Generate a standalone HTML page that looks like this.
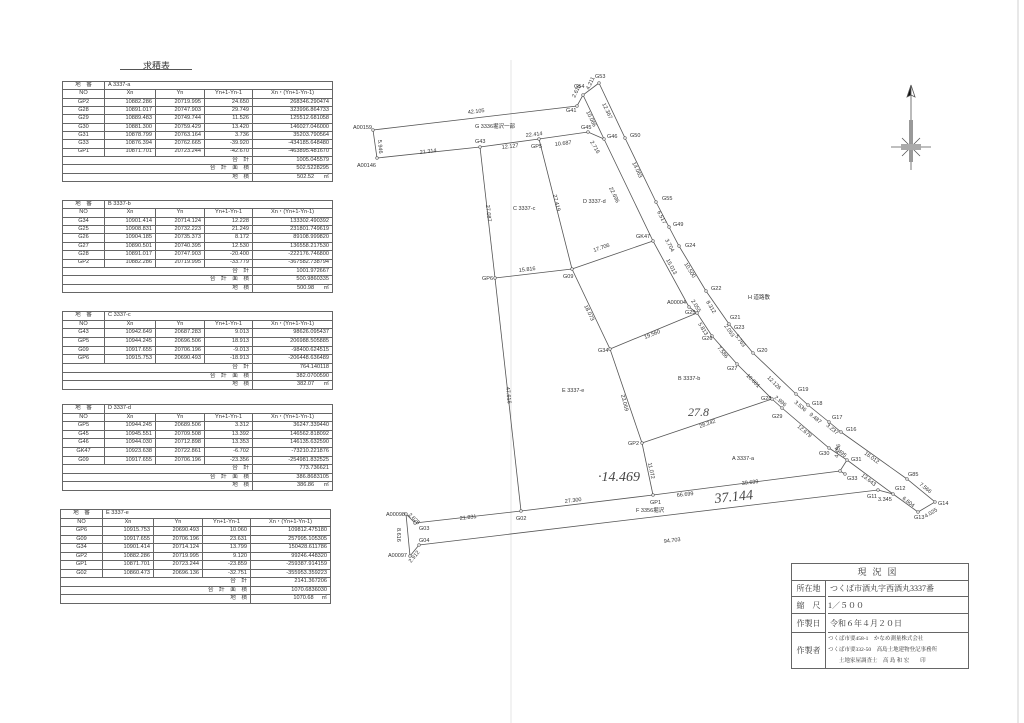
<!DOCTYPE html>
<html><head><meta charset="utf-8">
<style>
body{margin:0;background:#fff;}
#pg{position:relative;width:1024px;height:723px;overflow:hidden;background:#fff;font-family:"Liberation Sans","Noto Sans CJK JP",sans-serif;color:#333;}
table.q{position:absolute;border-collapse:collapse;font-size:5.6px;table-layout:fixed;}
table.q td{border:0.8px solid #666;padding:0 3px;white-space:nowrap;overflow:hidden;line-height:1;}
table.q td.c{text-align:center}
table.q td.r{text-align:right}
svg{position:absolute;left:0;top:0}
.tb{position:absolute;left:791px;top:563px;width:176px;height:104px;border:1px solid #666;font-family:"Liberation Serif","Noto Serif CJK SC",serif;color:#333;}
.tb div{position:absolute;box-sizing:border-box}
</style></head><body><div id="pg">

<div style="position:absolute;left:143px;top:59px;font-size:9px;">求積表</div>
<div style="position:absolute;left:120px;top:69px;width:72px;border-top:0.8px solid #555"></div>

<!-- Table A -->
<table class="q" style="left:62px;top:81px;width:270px;height:101px">
<colgroup><col style="width:42px"><col style="width:51px"><col style="width:49px"><col style="width:48px"><col style="width:80px"></colgroup>
<tr><td class="c">地　番</td><td colspan="4">A 3337-a</td></tr>
<tr><td class="c">NO</td><td class="c">Xn</td><td class="c">Yn</td><td class="c">Yn+1-Yn-1</td><td class="c">Xn・(Yn+1-Yn-1)</td></tr>
<tr><td class="c">GP2</td><td class="r">10882.286</td><td class="r">20719.995</td><td class="r">24.650</td><td class="r">268346.290474</td></tr>
<tr><td class="c">G28</td><td class="r">10891.017</td><td class="r">20747.903</td><td class="r">29.749</td><td class="r">323996.864733</td></tr>
<tr><td class="c">G29</td><td class="r">10889.483</td><td class="r">20749.744</td><td class="r">11.526</td><td class="r">125512.681058</td></tr>
<tr><td class="c">G30</td><td class="r">10881.300</td><td class="r">20759.429</td><td class="r">13.420</td><td class="r">146027.046000</td></tr>
<tr><td class="c">G31</td><td class="r">10878.799</td><td class="r">20763.164</td><td class="r">3.736</td><td class="r">35203.790564</td></tr>
<tr><td class="c">G33</td><td class="r">10876.394</td><td class="r">20762.665</td><td class="r">-39.920</td><td class="r">-434185.648480</td></tr>
<tr><td class="c">GP1</td><td class="r">10871.701</td><td class="r">20723.244</td><td class="r">-42.670</td><td class="r">-463895.481670</td></tr>
<tr><td colspan="4" class="r">合　計</td><td class="r">1005.045579</td></tr>
<tr><td colspan="4" class="r">合　計　面　積</td><td class="r">502.5228295</td></tr>
<tr><td colspan="4" class="r">地　積</td><td class="r">502.52&nbsp;&nbsp;&nbsp;&nbsp;&nbsp;&nbsp;㎡</td></tr>
</table>

<!-- Table B -->
<table class="q" style="left:62px;top:200px;width:270px;height:93px">
<colgroup><col style="width:42px"><col style="width:51px"><col style="width:49px"><col style="width:48px"><col style="width:80px"></colgroup>
<tr><td class="c">地　番</td><td colspan="4">B 3337-b</td></tr>
<tr><td class="c">NO</td><td class="c">Xn</td><td class="c">Yn</td><td class="c">Yn+1-Yn-1</td><td class="c">Xn・(Yn+1-Yn-1)</td></tr>
<tr><td class="c">G34</td><td class="r">10901.414</td><td class="r">20714.124</td><td class="r">12.228</td><td class="r">133302.490392</td></tr>
<tr><td class="c">G25</td><td class="r">10908.831</td><td class="r">20732.223</td><td class="r">21.249</td><td class="r">231801.749619</td></tr>
<tr><td class="c">G26</td><td class="r">10904.185</td><td class="r">20735.373</td><td class="r">8.172</td><td class="r">89108.999820</td></tr>
<tr><td class="c">G27</td><td class="r">10890.501</td><td class="r">20740.395</td><td class="r">12.530</td><td class="r">136558.217530</td></tr>
<tr><td class="c">G28</td><td class="r">10891.017</td><td class="r">20747.903</td><td class="r">-20.400</td><td class="r">-222176.746800</td></tr>
<tr><td class="c">GP2</td><td class="r">10882.286</td><td class="r">20719.995</td><td class="r">-33.779</td><td class="r">-367582.738794</td></tr>
<tr><td colspan="4" class="r">合　計</td><td class="r">1001.972667</td></tr>
<tr><td colspan="4" class="r">合　計　面　積</td><td class="r">500.9860335</td></tr>
<tr><td colspan="4" class="r">地　積</td><td class="r">500.98&nbsp;&nbsp;&nbsp;&nbsp;&nbsp;&nbsp;㎡</td></tr>
</table>

<!-- Table C -->
<table class="q" style="left:62px;top:311px;width:270px;height:79px">
<colgroup><col style="width:42px"><col style="width:51px"><col style="width:49px"><col style="width:48px"><col style="width:80px"></colgroup>
<tr><td class="c">地　番</td><td colspan="4">C 3337-c</td></tr>
<tr><td class="c">NO</td><td class="c">Xn</td><td class="c">Yn</td><td class="c">Yn+1-Yn-1</td><td class="c">Xn・(Yn+1-Yn-1)</td></tr>
<tr><td class="c">G43</td><td class="r">10942.649</td><td class="r">20687.283</td><td class="r">9.013</td><td class="r">98626.095437</td></tr>
<tr><td class="c">GP5</td><td class="r">10944.245</td><td class="r">20696.506</td><td class="r">18.913</td><td class="r">206988.505885</td></tr>
<tr><td class="c">G09</td><td class="r">10917.655</td><td class="r">20706.196</td><td class="r">-9.013</td><td class="r">-98400.624515</td></tr>
<tr><td class="c">GP6</td><td class="r">10915.753</td><td class="r">20690.493</td><td class="r">-18.913</td><td class="r">-206448.636489</td></tr>
<tr><td colspan="4" class="r">合　計</td><td class="r">764.140118</td></tr>
<tr><td colspan="4" class="r">合　計　面　積</td><td class="r">382.0700590</td></tr>
<tr><td colspan="4" class="r">地　積</td><td class="r">382.07&nbsp;&nbsp;&nbsp;&nbsp;&nbsp;&nbsp;㎡</td></tr>
</table>

<!-- Table D -->
<table class="q" style="left:62px;top:404px;width:270px;height:87px">
<colgroup><col style="width:42px"><col style="width:51px"><col style="width:49px"><col style="width:48px"><col style="width:80px"></colgroup>
<tr><td class="c">地　番</td><td colspan="4">D 3337-d</td></tr>
<tr><td class="c">NO</td><td class="c">Xn</td><td class="c">Yn</td><td class="c">Yn+1-Yn-1</td><td class="c">Xn・(Yn+1-Yn-1)</td></tr>
<tr><td class="c">GP5</td><td class="r">10944.245</td><td class="r">20689.506</td><td class="r">3.312</td><td class="r">36247.339440</td></tr>
<tr><td class="c">G45</td><td class="r">10945.551</td><td class="r">20709.508</td><td class="r">13.392</td><td class="r">146562.818092</td></tr>
<tr><td class="c">G46</td><td class="r">10944.030</td><td class="r">20712.898</td><td class="r">13.353</td><td class="r">146135.632590</td></tr>
<tr><td class="c">GK47</td><td class="r">10923.638</td><td class="r">20722.861</td><td class="r">-6.702</td><td class="r">-73210.221876</td></tr>
<tr><td class="c">G09</td><td class="r">10917.655</td><td class="r">20706.196</td><td class="r">-23.356</td><td class="r">-254981.832525</td></tr>
<tr><td colspan="4" class="r">合　計</td><td class="r">773.736621</td></tr>
<tr><td colspan="4" class="r">合　計　面　積</td><td class="r">386.8683105</td></tr>
<tr><td colspan="4" class="r">地　積</td><td class="r">386.86&nbsp;&nbsp;&nbsp;&nbsp;&nbsp;&nbsp;㎡</td></tr>
</table>

<!-- Table E -->
<table class="q" style="left:60px;top:509px;width:270px;height:95px">
<colgroup><col style="width:42px"><col style="width:51px"><col style="width:49px"><col style="width:48px"><col style="width:80px"></colgroup>
<tr><td class="c">地　番</td><td colspan="4">E 3337-e</td></tr>
<tr><td class="c">NO</td><td class="c">Xn</td><td class="c">Yn</td><td class="c">Yn+1-Yn-1</td><td class="c">Xn・(Yn+1-Yn-1)</td></tr>
<tr><td class="c">GP6</td><td class="r">10915.753</td><td class="r">20690.493</td><td class="r">10.060</td><td class="r">109812.475180</td></tr>
<tr><td class="c">G09</td><td class="r">10917.655</td><td class="r">20706.196</td><td class="r">23.631</td><td class="r">257995.105305</td></tr>
<tr><td class="c">G34</td><td class="r">10901.414</td><td class="r">20714.124</td><td class="r">13.799</td><td class="r">150428.611786</td></tr>
<tr><td class="c">GP2</td><td class="r">10882.286</td><td class="r">20719.995</td><td class="r">9.120</td><td class="r">99246.448320</td></tr>
<tr><td class="c">GP1</td><td class="r">10871.701</td><td class="r">20723.244</td><td class="r">-23.859</td><td class="r">-259387.914159</td></tr>
<tr><td class="c">G02</td><td class="r">10860.473</td><td class="r">20696.136</td><td class="r">-32.751</td><td class="r">-355953.359223</td></tr>
<tr><td colspan="4" class="r">合　計</td><td class="r">2141.367206</td></tr>
<tr><td colspan="4" class="r">合　計　面　積</td><td class="r">1070.6836030</td></tr>
<tr><td colspan="4" class="r">地　積</td><td class="r">1070.68&nbsp;&nbsp;&nbsp;&nbsp;&nbsp;㎡</td></tr>
</table>

<svg width="1024" height="723" viewBox="0 0 1024 723" font-family="Liberation Sans, Noto Sans CJK JP, sans-serif" font-size="5.5" fill="#333">
<line x1="511" y1="60" x2="511" y2="723" stroke="#e4e4e4" stroke-width="1"/>
<line x1="1018" y1="0" x2="1018" y2="723" stroke="#d0d0d0" stroke-width="1"/>
<g stroke="#555" stroke-width="0.8" fill="none">
<polyline points="373,130 577,106 583,95 599,83"/>
<polyline points="373,130 377,158 480,147 539,139 588,132 604,139"/>
<line x1="583" y1="95" x2="604" y2="139"/>
<polyline points="604,139 653,241 689,307 697,313 712,336 737,364 772,399 782,408 829,448 847,460 893,494 918,512"/>
<polyline points="599,83 625,138 656,202 669,227 679,246 706,291 729,324 753,353 796,394 808,405 829,422 841,432 907,479 935,502 918,512"/>
<polyline points="480,147 495,278 521,511"/>
<polyline points="539,139 572,269 610,349 642,443 653,495"/>
<line x1="495" y1="278" x2="572" y2="269"/>
<line x1="572" y1="269" x2="653" y2="241"/>
<line x1="610" y1="349" x2="697" y2="313"/>
<line x1="642" y1="443" x2="772" y2="399"/>
<polyline points="415,523 521,511 653,495 840,471 847,460"/>
<line x1="840" y1="471" x2="845" y2="474"/>
<polyline points="419,545 878,490 893,494"/>
<polyline points="415,523 406,514 410,556 419,545"/>
</g>
<g fill="#fff" stroke="#555" stroke-width="0.6">
<circle cx="373" cy="130" r="1.3"/><circle cx="377" cy="158" r="1.3"/><circle cx="480" cy="147" r="1.3"/><circle cx="539" cy="139" r="1.3"/><circle cx="588" cy="132" r="1.3"/><circle cx="604" cy="139" r="1.3"/><circle cx="577" cy="106" r="1.3"/><circle cx="583" cy="95" r="1.3"/><circle cx="599" cy="83" r="1.3"/><circle cx="625" cy="138" r="1.3"/><circle cx="656" cy="202" r="1.3"/><circle cx="669" cy="227" r="1.3"/><circle cx="679" cy="246" r="1.3"/><circle cx="653" cy="241" r="1.3"/><circle cx="572" cy="269" r="1.3"/><circle cx="495" cy="278" r="1.3"/><circle cx="706" cy="291" r="1.3"/><circle cx="689" cy="307" r="1.3"/><circle cx="697" cy="313" r="1.3"/><circle cx="729" cy="324" r="1.3"/><circle cx="753" cy="353" r="1.3"/><circle cx="712" cy="336" r="1.3"/><circle cx="737" cy="364" r="1.3"/><circle cx="610" cy="349" r="1.3"/><circle cx="772" cy="399" r="1.3"/><circle cx="782" cy="408" r="1.3"/><circle cx="796" cy="394" r="1.3"/><circle cx="808" cy="405" r="1.3"/><circle cx="829" cy="422" r="1.3"/><circle cx="841" cy="432" r="1.3"/><circle cx="829" cy="448" r="1.3"/><circle cx="847" cy="460" r="1.3"/><circle cx="840" cy="471" r="1.3"/><circle cx="845" cy="474" r="1.3"/><circle cx="907" cy="479" r="1.3"/><circle cx="935" cy="502" r="1.3"/><circle cx="918" cy="512" r="1.3"/><circle cx="878" cy="490" r="1.3"/><circle cx="893" cy="494" r="1.3"/><circle cx="642" cy="443" r="1.3"/><circle cx="653" cy="495" r="1.3"/><circle cx="521" cy="511" r="1.3"/><circle cx="415" cy="523" r="1.3"/><circle cx="406" cy="514" r="1.3"/><circle cx="419" cy="545" r="1.3"/><circle cx="410" cy="556" r="1.3"/>
</g>
<!-- point labels -->
<text x="353" y="129">A00159</text><text x="357" y="167">A00146</text>
<text x="475" y="143">G43</text><text x="531" y="148">GP5</text><text x="581" y="129">G45</text><text x="607" y="138">G46</text>
<text x="566" y="112">G41</text><text x="574" y="88">G54</text><text x="595" y="78">G53</text><text x="630" y="137">G50</text>
<text x="662" y="200">G55</text><text x="673" y="226">G49</text><text x="685" y="247">G24</text><text x="636" y="238">GK47</text>
<text x="563" y="278">G09</text><text x="482" y="280">GP6</text><text x="711" y="290">G22</text><text x="667" y="304">A00004</text><text x="685" y="314">G25</text>
<text x="730" y="319">G21</text><text x="734" y="329">G23</text><text x="757" y="352">G20</text><text x="702" y="340">G26</text><text x="727" y="370">G27</text><text x="598" y="352">G34</text>
<text x="761" y="400">G28</text><text x="772" y="418">G29</text><text x="798" y="391">G19</text><text x="812" y="405">G18</text><text x="832" y="419">G17</text><text x="846" y="431">G16</text>
<text x="819" y="455">G30</text><text x="851" y="461">G31</text><text x="847" y="480">G33</text><text x="908" y="476">G85</text><text x="938" y="505">G14</text><text x="914" y="519">G13</text>
<text x="867" y="498">G11</text><text x="895" y="490">G12</text><text x="628" y="445">GP2</text><text x="650" y="504">GP1</text><text x="516" y="520">G02</text>
<text x="419" y="530">G03</text><text x="386" y="516">A00098</text><text x="419" y="542">G04</text><text x="388" y="557">A00097</text>
<!-- distances -->
<text x="468" y="114" transform="rotate(-7 468 114)">42.105</text>
<text x="420" y="154" transform="rotate(-7 420 154)">21.314</text>
<text x="502" y="149" transform="rotate(-7 502 149)">12.127</text>
<text x="526" y="137" transform="rotate(-7 526 137)">22.414</text>
<text x="555" y="146" transform="rotate(-7 555 146)">10.687</text>
<text x="590" y="142" transform="rotate(60 590 142)">2.716</text>
<text x="378" y="140" transform="rotate(85 378 140)">5.946</text>
<text x="589" y="90" transform="rotate(-65 589 90)">4.211</text>
<text x="575" y="98" transform="rotate(-65 575 98)">2.616</text>
<text x="586" y="112" transform="rotate(64 586 112)">10.066</text>
<text x="602" y="104" transform="rotate(64 602 104)">12.367</text>
<text x="632" y="163" transform="rotate(64 632 163)">14.063</text>
<text x="609" y="188" transform="rotate(64 609 188)">22.696</text>
<text x="657" y="212" transform="rotate(62 657 212)">6.517</text>
<text x="665" y="240" transform="rotate(62 665 240)">3.704</text>
<text x="666" y="260" transform="rotate(62 666 260)">15.013</text>
<text x="684" y="264" transform="rotate(58 684 264)">10.500</text>
<text x="706" y="302" transform="rotate(58 706 302)">8.312</text>
<text x="691" y="301" transform="rotate(58 691 301)">2.055</text>
<text x="698" y="324" transform="rotate(58 698 324)">5.813</text>
<text x="724" y="326" transform="rotate(55 724 326)">2.053</text>
<text x="735" y="336" transform="rotate(55 735 336)">5.763</text>
<text x="717" y="348" transform="rotate(50 717 348)">7.586</text>
<text x="746" y="376" transform="rotate(45 746 376)">10.601</text>
<text x="767" y="378" transform="rotate(45 767 378)">12.126</text>
<text x="774" y="398" transform="rotate(40 774 398)">2.996</text>
<text x="794" y="403" transform="rotate(40 794 403)">3.536</text>
<text x="809" y="415" transform="rotate(40 809 415)">9.487</text>
<text x="826" y="426" transform="rotate(40 826 426)">3.237</text>
<text x="797" y="427" transform="rotate(40 797 427)">12.679</text>
<text x="834" y="449" transform="rotate(38 834 449)">4.495</text>
<text x="838" y="458" transform="rotate(-80 838 458)">4.456</text>
<text x="864" y="454" transform="rotate(36 864 454)">16.012</text>
<text x="861" y="476" transform="rotate(38 861 476)">13.643</text>
<text x="919" y="485" transform="rotate(38 919 485)">7.566</text>
<text x="902" y="499" transform="rotate(38 902 499)">6.604</text>
<text x="926" y="518" transform="rotate(-32 926 518)">4.025</text>
<text x="878" y="501">3.345</text>
<text x="594" y="252" transform="rotate(-19 594 252)">17.706</text>
<text x="519" y="272" transform="rotate(-7 519 272)">15.816</text>
<text x="486" y="205" transform="rotate(84 486 205)">27.087</text>
<text x="553" y="195" transform="rotate(76 553 195)">27.419</text>
<text x="584" y="306" transform="rotate(64 584 306)">18.073</text>
<text x="645" y="339" transform="rotate(-22 645 339)">19.560</text>
<text x="506" y="387" transform="rotate(84 506 387)">47.616</text>
<text x="621" y="395" transform="rotate(76 621 395)">23.069</text>
<text x="648" y="463" transform="rotate(78 648 463)">11.072</text>
<text x="700" y="428" transform="rotate(-19 700 428)">28.242</text>
<text x="565" y="503" transform="rotate(-7 565 503)">27.300</text>
<text x="677" y="497" transform="rotate(-7 677 497)">66.699</text>
<text x="742" y="485" transform="rotate(-7 742 485)">39.699</text>
<text x="460" y="520" transform="rotate(-7 460 520)">21.831</text>
<text x="664" y="543" transform="rotate(-7 664 543)">94.703</text>
<text x="408" y="515" transform="rotate(45 408 515)">2.625</text>
<text x="397" y="528" transform="rotate(90 397 528)">8.616</text>
<text x="411" y="563" transform="rotate(-50 411 563)">2.912</text>
<!-- area labels -->
<text x="475" y="128">G 3336堀沢一部</text>
<text x="513" y="210">C 3337-c</text>
<text x="583" y="203">D 3337-d</text>
<text x="748" y="299">H 道路敷</text>
<text x="678" y="380">B 3337-b</text>
<text x="562" y="392">E 3337-e</text>
<text x="732" y="460">A 3337-a</text>
<text x="636" y="512">F 3356堀沢</text>
<!-- handwritten -->
<g font-family="Liberation Serif, serif" font-style="italic" fill="#444">
<text x="688" y="416" font-size="12">27.8</text>
<text x="598" y="481" font-size="14">·14.469</text>
<text x="715" y="503" font-size="14" transform="rotate(-6 715 503)">37.144</text>
</g>
<!-- compass -->
<g stroke="#555" stroke-width="0.8" fill="#555">
<line x1="911" y1="85" x2="911" y2="170"/>
<line x1="891" y1="147" x2="931" y2="147"/>
<path d="M911 85 L907 97 L911 95 Z" fill="#111"/>
<path d="M911 85 L915 97 L911 95 Z" fill="#fff"/>
<rect x="909" y="120" width="4" height="42" fill="#999" stroke="none"/>
<line x1="902" y1="138" x2="920" y2="156"/><line x1="920" y1="138" x2="902" y2="156"/>
<rect x="901" y="144" width="20" height="6" fill="#aaa" stroke="none"/>
</g>
</svg>

<div class="tb">
<div style="left:0;top:0;width:176px;height:17px;border-bottom:1px solid #666;text-align:center;font-size:9px;line-height:17px;letter-spacing:6px;">現況図</div>
<div style="left:0;top:17px;width:34px;height:16px;border-bottom:1px solid #666;border-right:1px solid #666;font-size:8px;line-height:16px;text-align:center;">所在地</div>
<div style="left:36px;top:17px;width:140px;height:16px;border-bottom:1px solid #666;font-size:8px;line-height:16px;">&nbsp;つくば市酒丸字西酒丸3337番</div>
<div style="left:0;top:33px;width:34px;height:17px;border-bottom:1px solid #666;border-right:1px solid #666;font-size:8px;line-height:17px;text-align:center;">縮　尺</div>
<div style="left:36px;top:33px;width:140px;height:17px;border-bottom:1px solid #666;font-size:8px;line-height:17px;">1／５００</div>
<div style="left:0;top:50px;width:34px;height:19px;border-bottom:1px solid #666;border-right:1px solid #666;font-size:8px;line-height:19px;text-align:center;">作製日</div>
<div style="left:36px;top:50px;width:140px;height:19px;border-bottom:1px solid #666;font-size:8px;line-height:19px;">&nbsp;令和６年４月２０日</div>
<div style="left:0;top:69px;width:34px;height:35px;border-right:1px solid #666;font-size:8px;line-height:35px;text-align:center;">作製者</div>
<div style="left:36px;top:70px;width:140px;font-size:5.5px;line-height:11px;white-space:nowrap;">つくば市要458-1　かなめ測量株式会社<br>つくば市要332-50　高島土地建物登記事務所<br>&nbsp;&nbsp;&nbsp;&nbsp;&nbsp;&nbsp;&nbsp;&nbsp;土地家屋調査士　高 島 和 宏　　印</div>
</div>

</div></body></html>
